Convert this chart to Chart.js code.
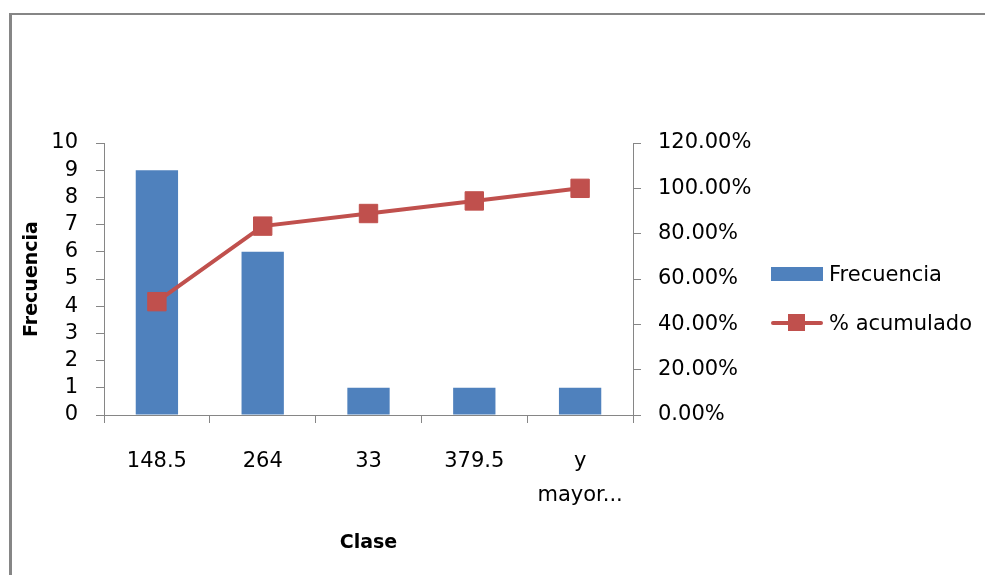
<!DOCTYPE html>
<html>
<head>
<meta charset="utf-8">
<script src="https://cdn.jsdelivr.net/npm/chart.js@4.4.1/dist/chart.umd.min.js"></script>
<style>
  body { margin: 0; background: #fff; }
  #wrap { position: relative; width: 985px; height: 575px; overflow: hidden; }
  #frame {
    position: absolute; left: 9px; top: 13px; width: 1000px; height: 600px;
    border-top: 2px solid #868686; border-left: 3px solid #868686;
  }
  #box { position: absolute; left: 0; top: 0; width: 985px; height: 575px; }
  .leg { position: absolute; left: 771px; font: 21px "DejaVu Sans"; color: #000; }
  .leg span { position: absolute; left: 58px; top: 0; white-space: nowrap; line-height: 26px; }
  .sw { position: absolute; }
</style>
</head>
<body>
<div id="wrap">
  <div id="frame"></div>
  <div id="box"><canvas id="chart"></canvas></div>
  <div class="leg" style="top:261px">
    <div class="sw" style="left:0;top:6px;width:52px;height:14px;background:#4F81BD"></div>
    <span>Frecuencia</span>
  </div>
  <div class="leg" style="top:310px">
    <div class="sw" style="left:0;top:11px;width:52px;height:4px;background:#C0504D;border-radius:2px"></div>
    <div class="sw" style="left:17px;top:4px;width:17px;height:17px;background:#C0504D"></div>
    <span>% acumulado</span>
  </div>
</div>
<script>
const clases = ["148.5", "264", "33", "379.5", ["y", "mayor..."]];
const frecuencia = [9, 6, 1, 1, 1];
const acumulado = [0.5, 0.8333, 0.8889, 0.9444, 1.0];

Chart.defaults.font.family = "DejaVu Sans";
Chart.defaults.color = "#000";

const axisGray = "#868686";

new Chart(document.getElementById("chart"), {
  data: {
    labels: clases,
    datasets: [
      {
        type: "line",
        label: "% acumulado",
        data: acumulado,
        yAxisID: "y1",
        order: 0,
        borderColor: "#C0504D",
        backgroundColor: "#C0504D",
        borderWidth: 4,
        pointStyle: "rect",
        pointRadius: 13,
        pointBorderWidth: 1,
        tension: 0,
      },
      {
        type: "bar",
        label: "Frecuencia",
        data: frecuencia,
        yAxisID: "y",
        order: 1,
        backgroundColor: "#4F81BD",
        barPercentage: 0.4,
        categoryPercentage: 1,
      },
    ],
  },
  options: {
    responsive: true,
    maintainAspectRatio: false,
    animation: false,
    layout: { padding: { top: 143, right: 222, left: 0, bottom: 0 } },
    plugins: { legend: { display: false }, tooltip: { enabled: false } },
    scales: {
      x: {
        offset: true,
        grid: { offset: true, drawOnChartArea: false, tickLength: 8, color: axisGray },
        border: { color: axisGray },
        ticks: { font: { size: 21, lineHeight: 1.65 }, padding: 21, maxRotation: 0, autoSkip: false },
        title: {
          display: true, text: "Clase",
          font: { size: 19, weight: "bold" },
          padding: { top: 0, bottom: 21 },
        },
        afterFit: (s) => { s.height = 160; },
      },
      y: {
        position: "left",
        min: 0, max: 10,
        ticks: { stepSize: 1, font: { size: 21 }, padding: 18, autoSkip: false },
        grid: { drawOnChartArea: false, tickLength: 8, color: axisGray },
        border: { color: axisGray },
        title: {
          display: true, text: "Frecuencia",
          font: { size: 19, weight: "bold" },
          padding: { top: 21, bottom: 0 },
        },
        afterFit: (s) => { s.width = 104; },
      },
      y1: {
        position: "right",
        min: 0, max: 1.2,
        ticks: {
          stepSize: 0.2, font: { size: 21 }, padding: 17, autoSkip: false,
          callback: (v) => (v * 100).toFixed(2) + "%",
        },
        grid: { drawOnChartArea: false, tickLength: 8, color: axisGray },
        border: { color: axisGray },
        afterFit: (s) => { s.width = 130; },
      },
    },
  },
});
</script>
</body>
</html>
